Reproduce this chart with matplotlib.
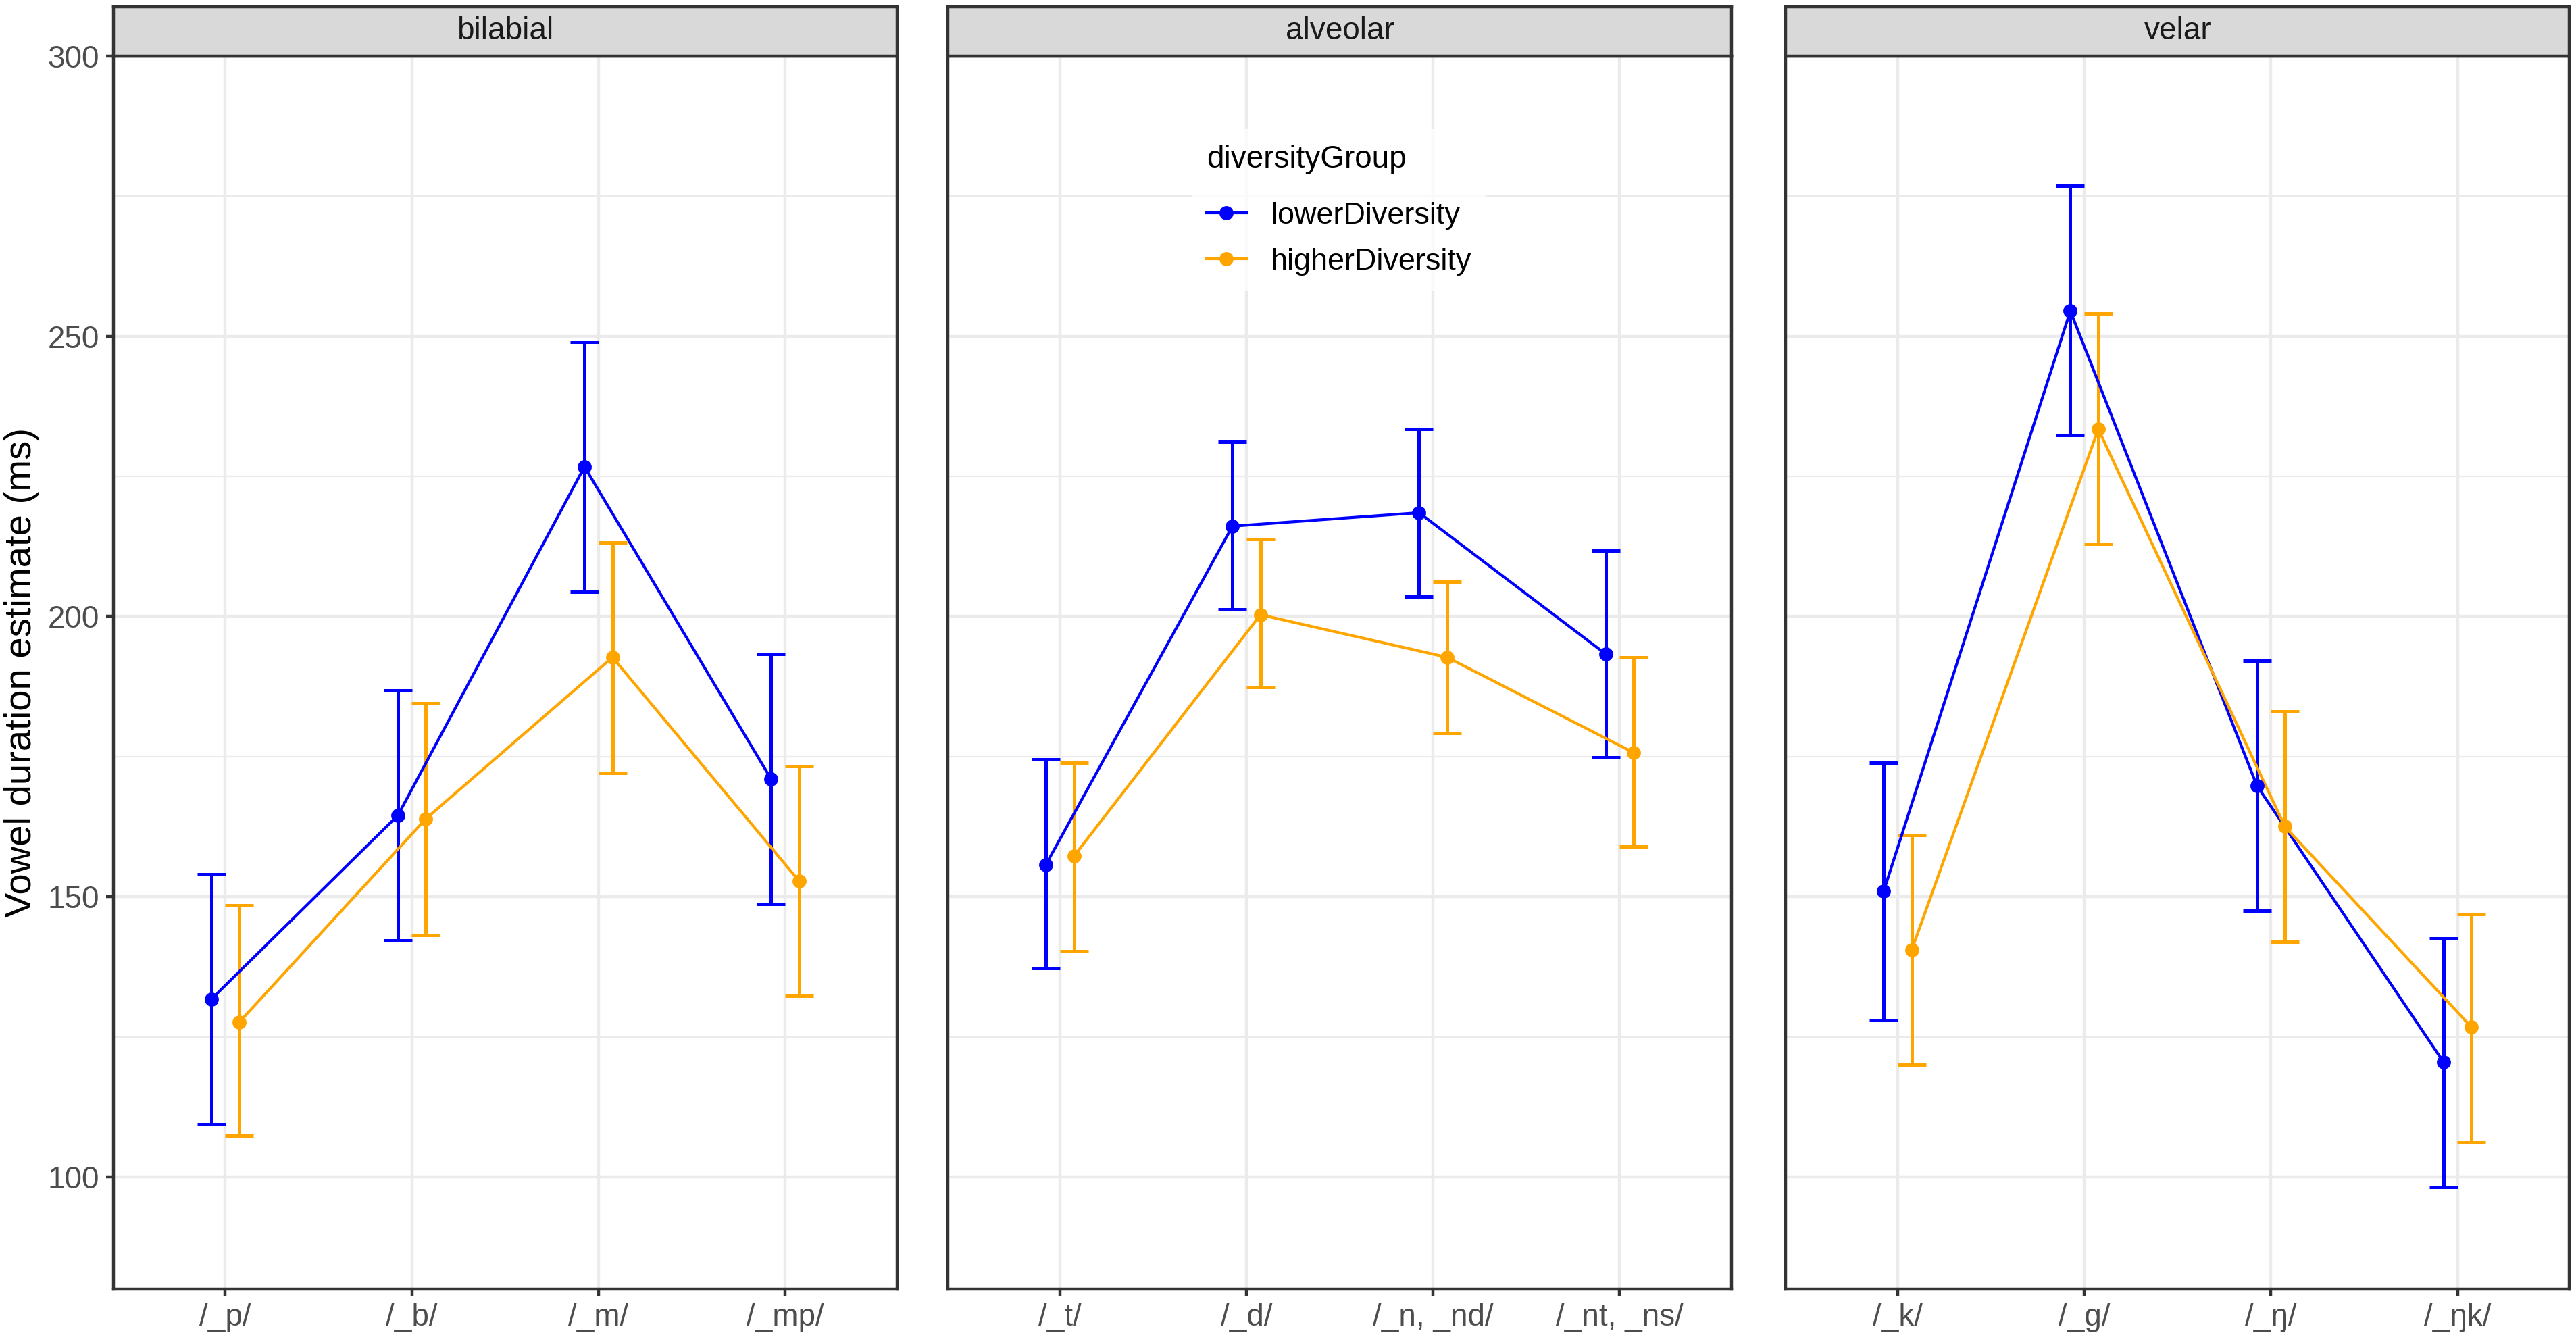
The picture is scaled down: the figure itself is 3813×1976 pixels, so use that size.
import matplotlib
matplotlib.use("Agg")
from matplotlib import pyplot as plt
from matplotlib.lines import Line2D
import numpy as np

plt.rcParams["font.family"] = ["Liberation Sans", "DejaVu Sans"]

places = ["bilabial", "alveolar", "velar"]
consonants = [
    ["/_p/", "/_b/", "/_m/", "/_mp/"],
    ["/_t/", "/_d/", "/_n, _nd/", "/_nt, _ns/"],
    ["/_k/", "/_g/", "/_ŋ/", "/_ŋk/"],
]

# lowerDiversity
lower_est = [[131.7, 164.5, 226.7, 171.0], [155.7, 216.1, 218.5, 193.3], [151.0, 254.5, 169.8, 120.5]]
lower_lo = [[109.4, 142.2, 204.4, 148.7], [137.2, 201.2, 203.5, 174.8], [127.9, 232.3, 147.5, 98.2]]
lower_hi = [[154.0, 186.8, 249.0, 193.3], [174.5, 231.1, 233.4, 211.7], [173.9, 276.8, 192.1, 142.5]]

# higherDiversity
higher_est = [[127.6, 163.9, 192.7, 152.8], [157.2, 200.3, 192.7, 175.7], [140.5, 233.4, 162.5, 126.7]]
higher_lo = [[107.3, 143.1, 172.1, 132.3], [140.2, 187.4, 179.2, 158.9], [120.0, 212.9, 141.9, 106.2]]
higher_hi = [[148.4, 184.5, 213.2, 173.3], [173.9, 213.8, 206.2, 192.7], [161.0, 254.0, 183.0, 146.9]]

groups = ["lowerDiversity", "higherDiversity"]
colors = {"lowerDiversity": "#0000FF", "higherDiversity": "#FFA500"}

W, H = 3813, 1976
fig = plt.figure(figsize=(W / 300, H / 300), dpi=300)

lefts = [69 / 1568, 577 / 1568, 1087 / 1568]
pw = 477 / 1568
pb = 1 - 784 / 812
ph = (784 - 34) / 812
sh = 30 / 812

grid_c = "#EBEBEB"
dark = "#333333"
tick_c = "#4D4D4D"

series = {
    "lowerDiversity": (lower_est, lower_lo, lower_hi, -0.075),
    "higherDiversity": (higher_est, higher_lo, higher_hi, 0.075),
}

for i, place in enumerate(places):
    ax = fig.add_axes([lefts[i], pb, pw, ph])
    x = np.arange(1, 5)
    ax.set_xlim(0.4, 4.6)
    ax.set_ylim(80, 300)
    ax.set_yticks([100, 150, 200, 250, 300])
    ax.set_yticks([125, 175, 225, 275], minor=True)
    ax.set_xticks(x)
    ax.set_xticklabels(consonants[i])
    ax.grid(True, which="major", color=grid_c, linewidth=1.07)
    ax.grid(True, which="minor", axis="y", color=grid_c, linewidth=0.55)
    ax.set_axisbelow(True)
    ax.tick_params(which="major", length=2.75, width=1.07, color=dark,
                   labelsize=11, labelcolor=tick_c, pad=2.2)
    ax.tick_params(which="minor", length=0)
    if i > 0:
        ax.tick_params(axis="y", left=False, labelleft=False)
    for sp in ax.spines.values():
        sp.set_color(dark)
        sp.set_linewidth(1.07)

    for g in groups:
        est, lo, hi, off = series[g]
        e = np.array(est[i])
        yerr = [e - np.array(lo[i]), np.array(hi[i]) - e]
        xs = x + off
        ax.errorbar(xs, e, yerr=yerr, fmt="none", ecolor=colors[g],
                    elinewidth=1.2, capsize=5.0, capthick=1.2, zorder=3)
        ax.plot(xs, e, color=colors[g], linewidth=1.0, zorder=4)
        ax.plot(xs, e, "o", color=colors[g], markersize=4.0, zorder=5)

    if i == 0:
        ax.set_ylabel("Vowel duration estimate (ms)", fontsize=13.5, labelpad=3)

    if i == 1:
        handles = [Line2D([], [], color=colors[g], marker="o", markersize=4.0,
                          linewidth=1.0) for g in groups]
        leg = ax.legend(handles, groups, title="diversityGroup", loc="center",
                        bbox_to_anchor=(0.499, 0.875), frameon=True,
                        fontsize=10.8, title_fontsize=11, handlelength=1.3,
                        handletextpad=0.8, labelspacing=0.6, borderpad=0.5)
        leg.get_frame().set_facecolor("white")
        leg.get_frame().set_edgecolor("none")
        leg.get_frame().set_boxstyle("square", pad=0)
        leg._legend_box.align = "left"
        leg._legend_box.sep = 10

    sax = fig.add_axes([lefts[i], pb + ph, pw, sh])
    sax.set_facecolor("#D9D9D9")
    sax.set_xticks([])
    sax.set_yticks([])
    for sp in sax.spines.values():
        sp.set_color(dark)
        sp.set_linewidth(1.07)
    sax.text(0.5, 0.5, place, ha="center", va="center", fontsize=11,
             color="#1A1A1A", transform=sax.transAxes)

fig.savefig("out.png", dpi=300)
